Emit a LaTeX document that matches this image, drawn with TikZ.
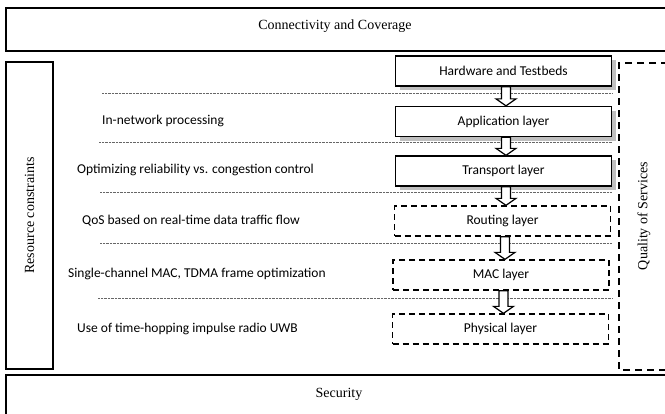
\documentclass[tikz,border=0pt]{standalone}
\usepackage{fontspec}
\setmainfont{Liberation Serif}
\newfontfamily\calibri{Carlito}
\usetikzlibrary{calc,shadows}

% hollow block arrow from the bottom of one layer to the top of the next
\newcommand\layerarrow[2]{%
  \draw[blockarrow] let \p1=($(#1.south)+(2.5pt,0)$), \p2=(#2.north) in
    (\x1-4.5pt,\y1) -- (\x1+4.5pt,\y1) -- (\x1+4.5pt,\y2+7pt) -- (\x1+10pt,\y2+7pt)
    -- (\x1,\y2) -- (\x1-10pt,\y2+7pt) -- (\x1-4.5pt,\y2+7pt) -- cycle;}

\begin{document}
\begin{tikzpicture}[x=1pt,y=-1pt,
  frame/.style={draw, line width=1.6pt},
  qosframe/.style={draw, line width=1.4pt, dash pattern=on 7pt off 5pt},
  serif/.style={font=\fontsize{14}{16}\selectfont},
  layer/.style={draw, line width=1.3pt, minimum width=216pt, minimum height=30pt,
    inner sep=0pt, fill=white, font=\calibri\fontsize{13.5}{15}\selectfont},
  solidlayer/.style={layer, drop shadow={shadow xshift=4pt, shadow yshift=-4pt,
    fill=black!25, opacity=1}},
  dashlayer/.style={layer, dash pattern=on 6pt off 4pt},
  issue/.style={anchor=west, inner sep=0pt, font=\calibri\fontsize{13.5}{15}\selectfont},
  sep/.style={draw=black!60, line width=0.7pt, dash pattern=on 0.7pt off 0.7pt},
  blockarrow/.style={draw, line width=1.2pt, fill=white, line join=miter},
]
\useasboundingbox (0,0) rectangle (665,413);
\clip (0,0) rectangle (665,413);

% cross-cutting concerns around the stack
\draw[frame] (6,8) rectangle (680,51);
\node[serif] (conn) at (335,26) {Connectivity and Coverage};

\draw[frame] (6,62) rectangle (53,369);
\node[serif, rotate=90] (res) at (29.5,215.5) {Resource constraints};

\draw[frame] (6,375) rectangle (680,430);
\node[serif] (sec) at (339,394) {Security};

\draw[qosframe] (680,63) -- (619,63) -- (619,370) -- (680,370);
\node[serif, rotate=90] (qos) at (644,216) {Quality of Services};

% separators between the layers
\foreach \yy/\xs in {93/102, 142/99, 192/100, 243/100, 298/98}
  \draw[sep] (\xs,\yy) -- (612,\yy);

% protocol stack
\node[solidlayer] (hw)  at (503.5,71)    {Hardware and Testbeds};
\node[solidlayer] (app) at (503.5,121.5) {Application layer};
\node[solidlayer] (tr)  at (503.5,171)   {Transport layer};
\node[dashlayer]  (rt)  at (502.5,221)   {Routing layer};
\node[dashlayer]  (mac) at (501,275)     {MAC layer};
\node[dashlayer]  (phy) at (500.5,329)   {Physical layer};

\layerarrow{hw}{app}
\layerarrow{app}{tr}
\layerarrow{tr}{rt}
\layerarrow{rt}{mac}
\layerarrow{mac}{phy}

% research issues per layer
\node[issue] (i1) at (102,121) {In-network processing};
\node[issue] (i2) at (77,170)  {Optimizing reliability vs. congestion control};
\node[issue] (i3) at (82,221)  {QoS based on real-time data traffic flow};
\node[issue] (i4) at (68,274)  {Single-channel MAC, TDMA frame optimization};
\node[issue] (i5) at (77,329)  {Use of time-hopping impulse radio UWB};
\end{tikzpicture}
\end{document}
